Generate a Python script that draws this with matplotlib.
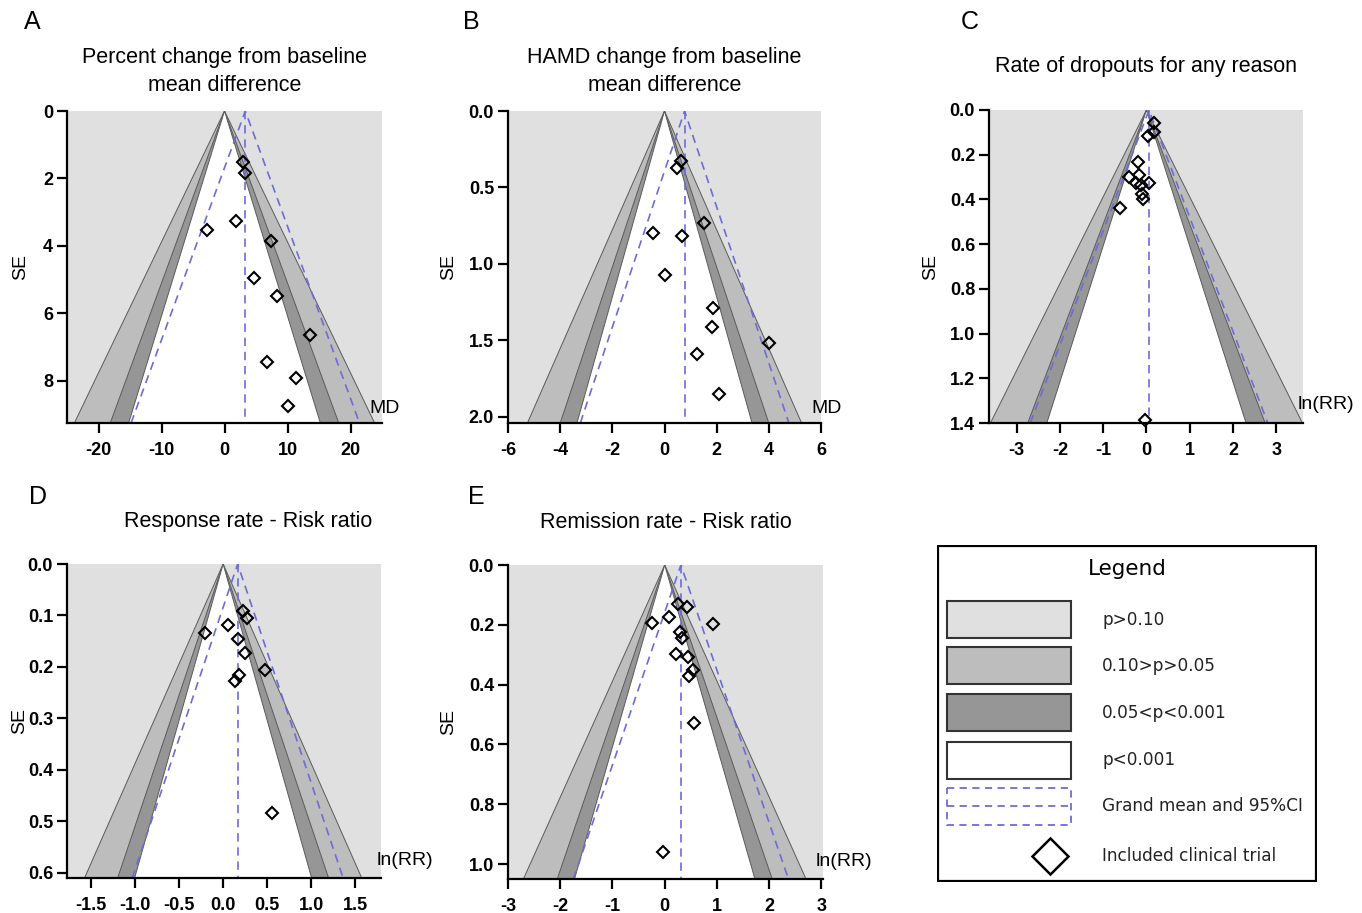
import matplotlib.pyplot as plt
from matplotlib.patches import Polygon, Rectangle

plt.rcParams['font.family'] = ['Liberation Sans', 'DejaVu Sans']

# A: percent change from baseline (mean difference)
a_effect = [2.86, 3.23, 1.75, -2.8, 7.4, 4.7, 8.4, 13.65, 6.67, 11.4, 10.05]
a_se = [1.50, 1.85, 3.27, 3.54, 3.84, 4.95, 5.49, 6.64, 7.44, 7.93, 8.76]
a_mean = 3.3

# B: HAMD change from baseline (mean difference)
b_effect = [0.64, 0.47, 1.53, -0.45, 0.66, 0.0, 1.86, 1.81, 4.01, 1.25, 2.09]
b_se = [0.33, 0.37, 0.73, 0.80, 0.82, 1.07, 1.29, 1.41, 1.52, 1.59, 1.85]
b_mean = 0.77

# C: dropouts for any reason, ln(RR)
c_effect = [0.17, 0.17, 0.04, -0.20, -0.40, -0.17, -0.23, -0.13, 0.06, -0.11, -0.07, -0.60, -0.03]
c_se = [0.060, 0.097, 0.115, 0.234, 0.300, 0.290, 0.328, 0.335, 0.325, 0.377, 0.400, 0.440, 1.388]
c_mean = 0.06

# D: response rate, ln(RR)
d_effect = [0.22, 0.27, 0.053, -0.21, 0.17, 0.25, 0.48, 0.18, 0.14, 0.55]
d_se = [0.091, 0.104, 0.118, 0.134, 0.145, 0.173, 0.206, 0.215, 0.227, 0.483]
d_mean = 0.165

# E: remission rate, ln(RR)
e_effect = [0.25, 0.42, 0.09, -0.24, 0.93, 0.30, 0.33, 0.22, 0.45, 0.54, 0.46, 0.57, -0.04]
e_se = [0.130, 0.142, 0.173, 0.193, 0.198, 0.223, 0.245, 0.298, 0.307, 0.351, 0.371, 0.529, 0.961]
e_mean = 0.31

W, H = 1362, 913
fig = plt.figure(figsize=(W / 100, H / 100), dpi=100)


def box(l, t, r, b):
    return [l / W, 1 - b / H, (r - l) / W, (b - t) / H]


def funnel(pos, effect, se, mean, xlim, ymax, xticks, yticks, xfmt, yfmt,
           title, title_x, title_y, xlab, xlab_pos, letter, letter_xy, ylabpad):
    ax = fig.add_axes(box(*pos))
    ax.set_facecolor('#e0e0e0')
    for z, col in [(2.576, '#bdbdbd'), (1.96, '#969696'), (1.645, 'white')]:
        ax.add_patch(Polygon([(0, 0), (-z * ymax, ymax), (z * ymax, ymax)],
                             closed=True, fc=col, ec='#5a5a5a', lw=0.7, zorder=1))
    blue = '#6c6cd8'
    ax.plot([mean, mean], [0, ymax], color=blue, ls=(0, (5, 3.5)), lw=1.2, zorder=2)
    ax.plot([mean - 1.96 * ymax, mean, mean + 1.96 * ymax], [ymax, 0, ymax],
            color=blue, ls=(0, (5, 3.5)), lw=1.2, zorder=2)
    ax.plot(effect, se, 'D', ms=6.6, mfc='none', mec='black', mew=1.5,
            zorder=5, clip_on=False)
    ax.set_xlim(*xlim)
    ax.set_ylim(ymax, 0)
    ax.set_xticks(xticks)
    ax.set_yticks(yticks)
    ax.set_xticklabels([xfmt.format(v) for v in xticks])
    ax.set_yticklabels([yfmt.format(v) for v in yticks])
    for s in ['top', 'right']:
        ax.spines[s].set_visible(False)
    for s in ['left', 'bottom']:
        ax.spines[s].set_linewidth(1.6)
    ax.tick_params(direction='out', length=7, width=1.6, labelsize=13)
    ax.tick_params(axis='x', pad=7)
    ax.tick_params(axis='y', pad=3)
    for lab in ax.get_xticklabels() + ax.get_yticklabels():
        lab.set_fontweight('bold')
    ax.set_ylabel('SE', fontsize=14, labelpad=ylabpad)
    ax.text(title_x, title_y, title, transform=ax.transAxes, ha='center',
            va='center', fontsize=15.5, linespacing=1.45)
    ax.text(xlab_pos[0], xlab_pos[1], xlab, transform=ax.transAxes, ha='left',
            va='center', fontsize=14)
    fig.text(letter_xy[0] / W, 1 - letter_xy[1] / H, letter, fontsize=18,
             ha='center', va='center')
    return ax


funnel((67, 111, 382, 423), a_effect, a_se, a_mean, (-25, 25), 9.25,
       [-20, -10, 0, 10, 20], [0, 2, 4, 6, 8], '{:d}', '{:d}',
       'Percent change from baseline\nmean difference', 0.5, 1.127,
       'MD', (0.959, 0.045), 'A', (32, 22), 10)

funnel((508, 111, 821, 423), b_effect, b_se, b_mean, (-6, 6), 2.04,
       [-6, -4, -2, 0, 2, 4, 6], [0.0, 0.5, 1.0, 1.5, 2.0], '{:d}', '{:.1f}',
       'HAMD change from baseline\nmean difference', 0.5, 1.127,
       'MD', (0.970, 0.048), 'B', (471, 22), 8)

funnel((989, 110, 1303, 423), c_effect, c_se, c_mean, (-3.64, 3.62), 1.4,
       [-3, -2, -1, 0, 1, 2, 3], [0.0, 0.2, 0.4, 0.6, 0.8, 1.0, 1.2, 1.4],
       '{:d}', '{:.1f}',
       'Rate of dropouts for any reason', 0.5, 1.14,
       'ln(RR)', (0.984, 0.058), 'C', (970, 22), 8)

funnel((67, 564, 381, 878), d_effect, d_se, d_mean, (-1.77, 1.79), 0.61,
       [-1.5, -1.0, -0.5, 0.0, 0.5, 1.0, 1.5], [0.0, 0.1, 0.2, 0.3, 0.4, 0.5, 0.6],
       '{:.1f}', '{:.1f}',
       'Response rate - Risk ratio', 0.576, 1.135,
       'ln(RR)', (0.987, 0.057), 'D', (38, 497), 0)

funnel((508, 565, 823, 879), e_effect, e_se, e_mean, (-3, 3.03), 1.05,
       [-3, -2, -1, 0, 1, 2, 3], [0.0, 0.2, 0.4, 0.6, 0.8, 1.0],
       '{:d}', '{:.1f}',
       'Remission rate - Risk ratio', 0.5, 1.135,
       'ln(RR)', (0.978, 0.055), 'E', (476, 497), 8)

# legend panel
legend_labels = ['p>0.10', '0.10>p>0.05', '0.05<p<0.001', 'p<0.001',
                 'Grand mean and 95%CI', 'Included clinical trial']
legend_fills = ['#e0e0e0', '#bdbdbd', '#969696', 'white']

lg = fig.add_axes(box(937, 545, 1317, 882))
lg.set_xlim(0, 380)
lg.set_ylim(337, 0)
lg.axis('off')
lg.add_patch(Rectangle((1, 1), 378, 335, fc='white', ec='black', lw=1.6))
lg.text(190, 24, 'Legend', ha='center', va='center', fontsize=15.5,
        family='DejaVu Sans')
row_y = [75, 121, 168, 215, 261, 311]
for y, fill in zip(row_y[:4], legend_fills):
    lg.add_patch(Rectangle((10, y - 18.5), 124, 37, fc=fill, ec='#333333', lw=1.5))
lg.add_patch(Rectangle((10, row_y[4] - 18.5), 124, 37, fc='none', ec='#6c6cd8',
                       lw=1.3, ls=(0, (4, 3))))
lg.plot([10, 134], [row_y[4], row_y[4]], color='#6c6cd8', lw=1.3, ls=(0, (4, 3)))
lg.plot([113], [row_y[5]], 'D', ms=18.5, mfc='none', mec='black', mew=1.8)
for y, lab in zip(row_y, legend_labels):
    lg.text(165, y, lab, ha='left', va='center', fontsize=12.2, family='DejaVu Sans',
            color='#222222')

fig.savefig('out.png', dpi=100)
